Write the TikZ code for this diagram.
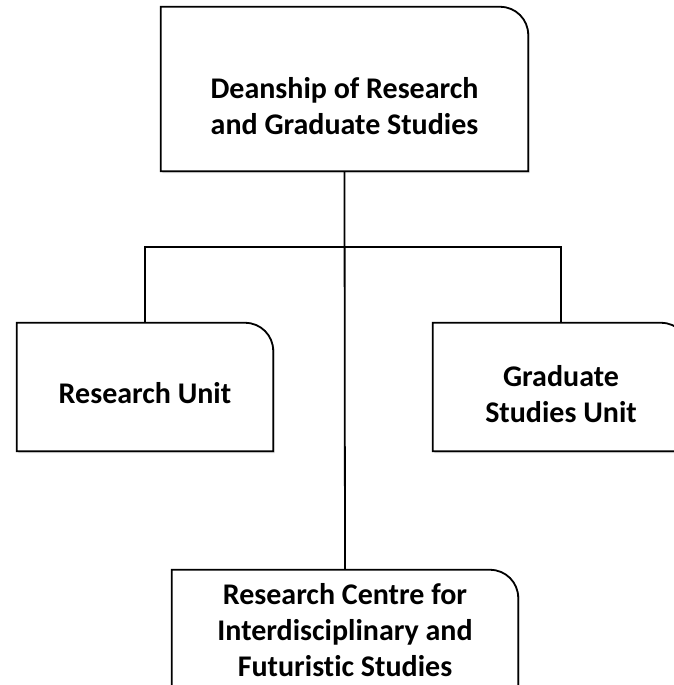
\documentclass[tikz,border=0pt]{standalone}
\usepackage{fontspec}
\setmainfont[Ligatures=NoCommon]{Carlito}
\usetikzlibrary{shadows}
\usetikzlibrary{positioning}
\usetikzlibrary{calc}
\tikzstyle{unitbox}=[rectangle,draw=none,minimum width=256pt,minimum height=128pt,inner sep=0pt]
\tikzstyle{unittext}=[font=\bfseries\fontsize{30}{36}\selectfont,align=center,text=black,inner sep=0pt]
\tikzstyle{outline}=[draw,line width=1.8pt,fill=white,drop shadow={shadow xshift=1.5pt,shadow yshift=-2pt,fill=black!30,opacity=0.5}]
\tikzstyle{link}=[draw,line width=1.8pt]

\begin{document}
\begin{tikzpicture}[x=1pt,y=1pt]

    \useasboundingbox (0,0) rectangle (674,-685);
    \clip (0,0) rectangle (674,-685);

    % First we place the boxes
    \node[unitbox,minimum width=367pt,minimum height=164pt] (dean) at (344.5,-89) {};
    \node[unitbox] (research) at (145,-387) {};
    \node[unitbox] (graduate) at (561,-387) {};
    \node[unitbox,minimum width=346pt,minimum height=150pt] (centre) at (345,-645) {};

    % Outlines, rounded at the top right only
    \foreach \name in {dean,research,graduate,centre}
        \path[outline] (\name.south west) -- (\name.north west) -- ($(\name.north east)+(-28,0)$)
            arc[start angle=90,end angle=0,radius=28pt] -- (\name.south east) -- cycle;

    % Connect the boxes
    \path[link] (dean.south) -- (centre.north);
    \path[link] (research.north) -- ++(0,76) -| (graduate.north);

    % Then the texts
    \node[unittext] (deantext) at ([yshift=-17pt]dean.center) {Deanship of Research\\and Graduate Studies};
    \node[unittext] (researchtext) at ([yshift=-6pt]research.center) {Research Unit};
    \node[unittext] (graduatetext) at ([yshift=-7pt]graduate.center) {Graduate\\Studies Unit};
    \node[unittext] (centretext) at ([yshift=15pt]centre.center) {Research Centre for\\Interdisciplinary and\\Futuristic Studies};

\end{tikzpicture}
\end{document}
